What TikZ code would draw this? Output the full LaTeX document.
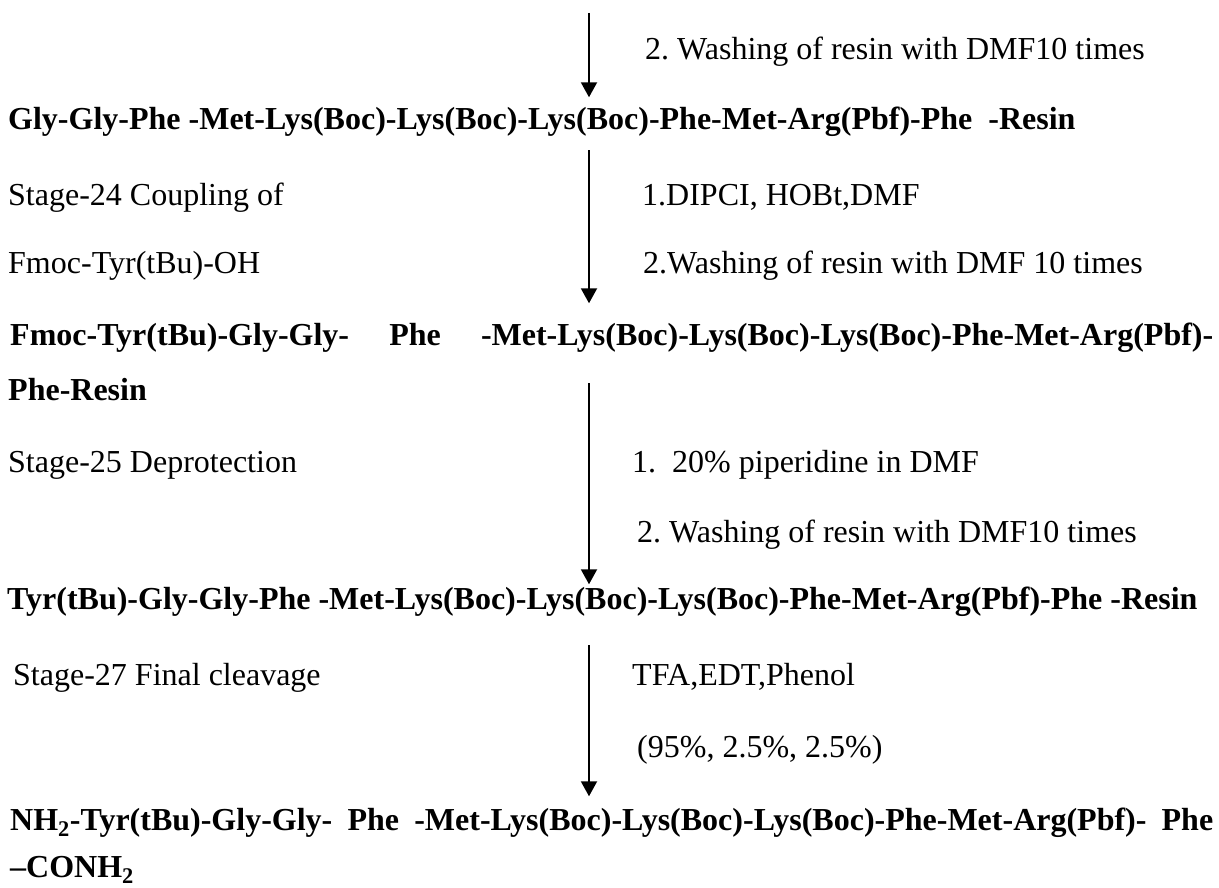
\documentclass[tikz,border=0pt]{standalone}
\usepackage{fontspec}
\setmainfont{Liberation Serif}
\usetikzlibrary{arrows.meta}
\frenchspacing

\begin{document}
\begin{tikzpicture}[
        x=1pt, y=-1pt,
        chain/.style={
            anchor=base west,
            inner sep=0pt,
            font=\fontsize{32}{38}\selectfont\bfseries
        },
        cond/.style={
            anchor=base west,
            inner sep=0pt,
            font=\fontsize{32}{38}\selectfont
        },
        arrow/.style={
            -{Triangle[length=15pt,width=16pt]},
            line width=2pt,
            black
        }
    ]
        \useasboundingbox (0,0) rectangle (1219,888);
        \coordinate (top) at (589,13);

        % peptide on resin
        \node [chain] (glypep) at (8,130) {Gly-Gly-Phe -Met-Lys(Boc)-Lys(Boc)-Lys(Boc)-Phe-Met-Arg(Pbf)-Phe\ \ -Resin};
        \node [chain] (fmocpep) at (10,345) {\makebox[1203pt][s]{Fmoc-Tyr(tBu)-Gly-Gly- Phe -Met-Lys(Boc)-Lys(Boc)-Lys(Boc)-Phe-Met-Arg(Pbf)-}};
        \node [chain] (pheres) at (8,400) {Phe-Resin};
        \node [chain] (tyrpep) at (7,609) {Tyr(tBu)-Gly-Gly-Phe -Met-Lys(Boc)-Lys(Boc)-Lys(Boc)-Phe-Met-Arg(Pbf)-Phe -Resin};
        \node [chain] (nhpep) at (10,830) {\makebox[1203pt][s]{NH\textsubscript{2}-Tyr(tBu)-Gly-Gly- Phe -Met-Lys(Boc)-Lys(Boc)-Lys(Boc)-Phe-Met-Arg(Pbf)- Phe}};
        \node [chain] (conh) at (10,877) {--CONH\textsubscript{2}};

        % stages
        \node [cond] (stage24) at (8,205) {Stage-24 Coupling of};
        \node [cond] (fmocaa) at (8,273) {Fmoc-Tyr(tBu)-OH};
        \node [cond] (stage25) at (8,472) {Stage-25 Deprotection};
        \node [cond] (stage27) at (13,685) {Stage-27 Final cleavage};

        % reagents
        \node [cond] (washa) at (645,60) {2. Washing of resin with DMF10 times};
        \node [cond] (dipci) at (642,205) {1.DIPCI, HOBt,DMF};
        \node [cond] (washb) at (643,273) {2.Washing of resin with DMF 10 times};
        \node [cond] (pip) at (632,472) {1.\ \ 20\% piperidine in DMF};
        \node [cond] (washc) at (637,542) {2. Washing of resin with DMF10 times};
        \node [cond] (tfa) at (632,685) {TFA,EDT,Phenol};
        \node [cond] (ratio) at (637,757) {(95\%, 2.5\%, 2.5\%)};

        \draw [arrow, shorten >=10pt] (top) -- (glypep.north -| top);
        \draw [arrow, shorten <=13pt, shorten >=19pt] (glypep.south -| top) -- (fmocpep.north -| top);
        \draw [arrow, shorten <=31pt, shorten >=2pt] (fmocpep.south -| top) -- (tyrpep.north -| top);
        \draw [arrow, shorten <=29pt, shorten >=11pt] (tyrpep.south -| top) -- (nhpep.north -| top);
    \end{tikzpicture}
\end{document}
